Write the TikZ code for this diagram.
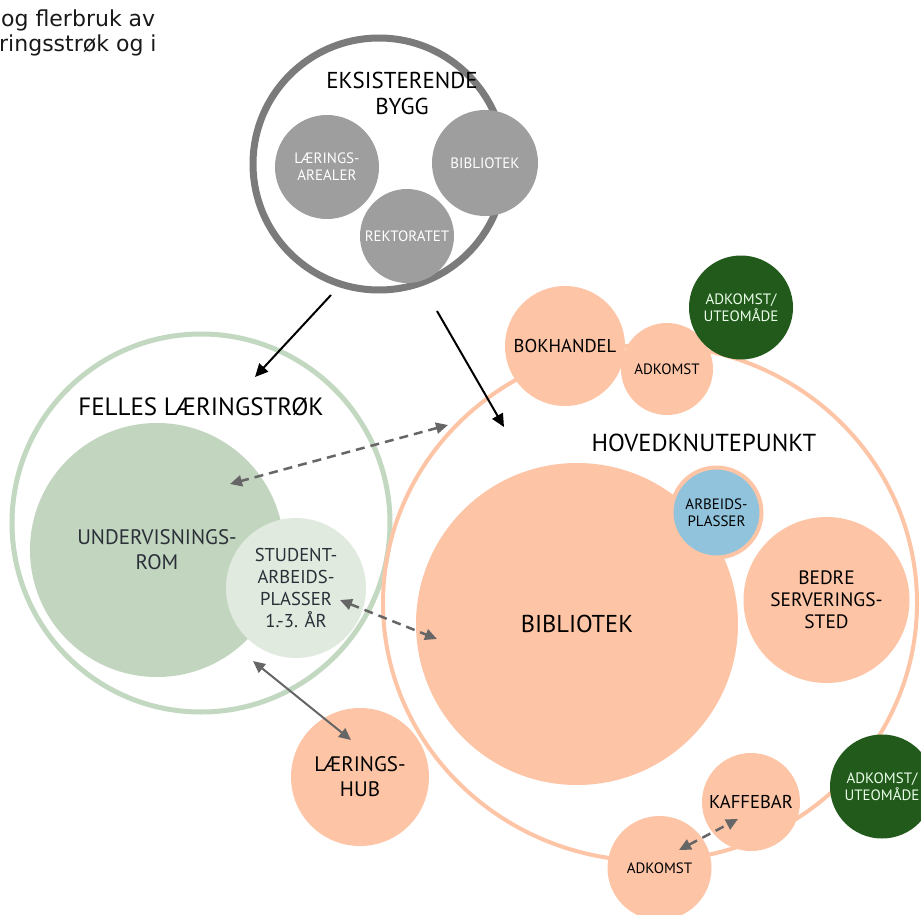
\documentclass[tikz,border=0pt]{standalone}
\usepackage{fontspec}
\setmainfont{PT Sans}
\newfontfamily\topfont{DejaVu Sans}
\usetikzlibrary{arrows.meta,shapes.geometric}
\definecolor{ringgray}{HTML}{7B7B7B}
\definecolor{gfill}{HTML}{9E9E9E}
\definecolor{greenring}{HTML}{C3D8C1}
\definecolor{undfill}{HTML}{C2D6BF}
\definecolor{studfill}{HTML}{E0EADF}
\definecolor{ofill}{HTML}{FDC4A6}
\definecolor{bluefill}{HTML}{91C4DC}
\definecolor{dkgreen}{HTML}{215A1B}
\definecolor{arrgray}{HTML}{666666}
\definecolor{slate}{HTML}{2B2F38}
\newcommand\sizeH{\fontsize{23}{26}\selectfont}
\newcommand\sizeHH{\fontsize{24.6}{26}\selectfont}
\newcommand\sizeM{\fontsize{21}{25}\selectfont}
\newcommand\sizeN{\fontsize{18.6}{22}\selectfont}
\newcommand\sizeS{\fontsize{15}{17}\selectfont}
\tikzset{
  bub/.style={circle, inner sep=0pt, align=center, text=black},
  gbub/.style={bub, fill=gfill, text=white, font=\sizeS},
  obub/.style={bub, fill=ofill},
  dbub/.style={bub, fill=dkgreen, text=white!92!green, font=\sizeS},
  heading/.style={align=center, inner sep=0pt, font=\sizeH, text=black},
  topline/.style={anchor=base west, inner sep=0pt, font=\topfont\fontsize{22}{25}\selectfont, text=black!90},
  blackarrow/.style={line width=2pt, black, -{Triangle[length=13pt,width=12pt]}},
  grayarrow/.style={line width=2pt, arrgray, {Triangle[length=12pt,width=11pt]}-{Triangle[length=12pt,width=11pt]}},
  dasharrow/.style={grayarrow, line width=2.5pt, dash pattern=on 9pt off 6pt},
}
\begin{document}
\begin{tikzpicture}[x=1pt,y=-1pt]
\useasboundingbox (0,0) rectangle (921,915);
\fill[white] (0,0) rectangle (921,915);
% top-left text
\node[topline] (tl1) at (1,27) {og flerbruk av};
\node[topline] (tl2) at (-1,52) {ringsstrøk og i};
% containers
\node[circle, draw=ringgray, line width=7pt, fill=white, minimum size=252pt, inner sep=0pt] (eks) at (379,164) {};
\node[circle, draw=greenring, line width=5pt, minimum size=378pt, inner sep=0pt] (fel) at (201,523) {};
\node[ellipse, draw=ofill, line width=4pt, minimum width=534pt, minimum height=516pt, inner sep=0pt] (hov) at (650,603) {};
% headings
\node[heading] (eksT) at (402,93) {EKSISTERENDE\\BYGG};
\node[heading, font=\fontsize{25}{26}\selectfont] (felT) at (201,407) {FELLES LÆRINGSTRØK};
\node[heading, font=\sizeHH] (hovT) at (704,443) {HOVEDKNUTEPUNKT};
% existing building
\node[gbub, minimum size=104pt] (lar) at (327,167) {LÆRINGS-\\AREALER};
\node[gbub, minimum size=106pt] (gbib) at (485,163) {BIBLIOTEK};
\node[gbub, minimum size=94pt] (rekt) at (407,236) {REKTORATET};
% felles
\node[bub, fill=undfill, text=slate, font=\sizeM, minimum size=254pt] (und) at (157,550) {UNDERVISNINGS-\\ROM};
\node[bub, fill=studfill, text=slate, font=\sizeN, minimum size=140pt] (stud) at (296,588) {STUDENT-\\ARBEIDS-\\PLASSER\\1.-3. ÅR};
% hoved
\node[obub, font=\fontsize{24.4}{26}\selectfont, minimum size=322pt] (bib) at (577,624) {BIBLIOTEK};
\node[bub, fill=bluefill, draw=ofill, line width=4pt, font=\sizeS, minimum size=90pt] (arb) at (716.5,512.5) {ARBEIDS-\\PLASSER};
\node[obub, font=\fontsize{19.4}{22}\selectfont, minimum size=166pt] (bedre) at (826.5,600) {BEDRE\\SERVERINGS-\\STED};
\node[obub, font=\sizeN, minimum size=120pt] (bok) at (565,346) {BOKHANDEL};
\node[obub, font=\sizeS, minimum size=92pt] (adk1) at (667,369) {ADKOMST};
\node[dbub, minimum size=104pt] (ute1) at (741,307.5) {ADKOMST/\\UTEOMÅDE};
\node[dbub, minimum size=104pt] (ute2) at (882,786.5) {ADKOMST/\\UTEOMÅDE};
\node[obub, font=\sizeN, minimum size=98pt] (kaf) at (751,802) {KAFFEBAR};
\node[obub, font=\sizeS, minimum size=104pt] (adk2) at (659.5,868) {ADKOMST};
\node[obub, font=\sizeM, minimum size=138pt] (hub) at (360,777) {LÆRINGS-\\HUB};
% connector end points
\coordinate (b1s) at (331,295);
\coordinate (b1e) at (255,377);
\coordinate (b2s) at (437,311);
\coordinate (b2e) at (504,427);
\coordinate (d1a) at (448,425);
\coordinate (d1b) at (230,484);
\coordinate (d2a) at (340,600);
\coordinate (d2b) at (437,639);
\coordinate (s1a) at (253,661);
\coordinate (s1b) at (351,740);
\coordinate (d3a) at (679,850);
\coordinate (d3b) at (738,819);
% connectors
\draw[blackarrow] (b1s) -- (b1e);
\draw[blackarrow] (b2s) -- (b2e);
\draw[dasharrow] (d1a) -- (d1b);
\draw[dasharrow] (d2a) -- (d2b);
\draw[grayarrow] (s1a) -- (s1b);
\draw[dasharrow] (d3a) -- (d3b);
\end{tikzpicture}
\end{document}
